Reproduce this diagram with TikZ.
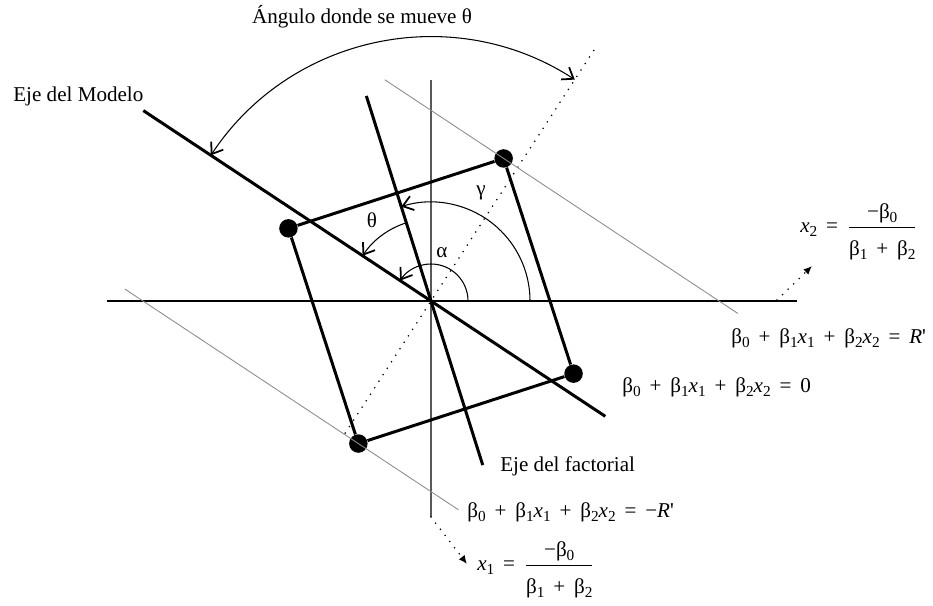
\documentclass[tikz,border=0pt]{standalone}
\usepackage{fontspec}
\setmainfont{Liberation Serif}
\usepackage{amsmath}
\usetikzlibrary{arrows.meta}
\newcommand{\sub}[1]{\raisebox{-0.4ex}{\fontsize{8.7}{9}\selectfont #1}}
\newcommand{\bt}[1]{β\sub{#1}}
\newcommand{\xv}[1]{\textit{x}\sub{#1}}
\newcommand{\op}[1]{\hspace{0.42em}#1\hspace{0.42em}}

\begin{document}
\begin{tikzpicture}[
			eje/.style={draw=black, line width=0.9pt},
			ejegris/.style={draw=black!65, line width=0.8pt},
			recta/.style={draw=black, line width=1.7pt},
			paralela/.style={draw=black!45, line width=0.5pt},
			arco/.style={draw=black, line width=0.6pt, -{Straight Barb[length=2mm, width=2.9mm, line width=1pt]}},
			punto/.style={circle, fill=black, inner sep=0pt, minimum size=0.37cm},
			etiqueta/.style={font=\fontsize{12}{14}\selectfont, inner sep=0pt},
			punteado/.style={line width=1pt, line cap=round, dash pattern=on 0pt off 4.4pt},
			guia/.style={punteado, -{Latex[length=1.7mm, width=1.5mm]}}
			]
			\useasboundingbox (-8.62,-6.08) rectangle (10.04,6.02);
			\coordinate (O) at (0,0);
			
			% Ejes x1 y x2
			\draw[eje] (-6.48,0) -- (7.32,0);
			\draw[ejegris] (0,4.42) -- (0,-4.32);
			
			% Diagonal punteada
			\draw[punteado] (237:3.15) -- (57:6.1);
			
			% Vertices del factorial
			\node[punto] (A) at (153:3.2) {};
			\node[punto] (B) at (63:3.2) {};
			\node[punto] (C) at (333:3.2) {};
			\node[punto] (D) at (243:3.2) {};
			
			% Rectas paralelas al eje del modelo
			\draw[paralela] ([shift={(146.5:2.85)}]B.center) -- ([shift={(-33.5:5.62)}]B.center);
			\draw[paralela] ([shift={(146.5:5.6)}]D.center) -- ([shift={(-33.5:2.4)}]D.center);
			
			% Cuadrado
			\draw[recta] (A) -- (B) -- (C) -- (D) -- (A);
			
			% Eje del modelo y eje del factorial
			\draw[recta] (146.5:6.9) -- (-33.5:4.18);
			\draw[recta] (107.5:4.3) -- (-72.5:3.44);
			
			% Angulos
			\draw[arco] (0:0.74) arc[start angle=0, end angle=146.5, radius=0.74];
			\draw[arco] (0:1.98) arc[start angle=0, end angle=107.5, radius=1.98];
			\draw[arco] (107.5:1.64) arc[start angle=107.5, end angle=146.5, radius=1.64];
			\draw[arco, {Straight Barb[length=2mm, width=2.9mm, line width=1pt]}-{Straight Barb[length=2mm, width=2.9mm, line width=1pt]}] (57:5.28) arc[start angle=57, end angle=146.5, radius=5.28];
			
			\node[etiqueta] (theta) at (-1.18,1.62) {θ};
			\node[etiqueta] (gamma) at (1.00,2.16) {γ};
			\node[etiqueta] (alfa) at (0.22,0.96) {α};
			
			% Textos
			\node[etiqueta] (titulo) at (-1.38,5.68) {Ángulo donde se mueve θ};
			\node[etiqueta, anchor=west] (ejemodelo) at (-8.36,4.10) {Eje del Modelo};
			\node[etiqueta, anchor=west] (ejefactorial) at (1.38,-3.30) {Eje del factorial};
			
			% Planos
			\node[etiqueta, anchor=west] (planoR) at (6.00,-0.74) {\bt0\op+\bt1\xv1\op+\bt2\xv2\op=\textit{R}\textquotesingle};
			\node[etiqueta, anchor=west] (plano0) at (3.82,-1.72) {\bt0\op+\bt1\xv1\op+\bt2\xv2\op=0};
			\node[etiqueta, anchor=west] (planoRneg) at (0.72,-4.22) {\bt0\op+\bt1\xv1\op+\bt2\xv2\op=−\textit{R}\textquotesingle};
			
			% Cortes con los ejes
			\node[etiqueta, anchor=west] (corteX2) at (7.38,1.38) {\xv2\op=$\dfrac{\text{−\bt0}}{\rule{0pt}{2.6ex}\text{\bt1\op+\bt2}}$};
			\node[etiqueta, anchor=west] (corteX1) at (0.92,-5.38) {\xv1\op=$\dfrac{\text{−\bt0}}{\rule{0pt}{2.6ex}\text{\bt1\op+\bt2}}$};
			\coordinate (x2ini) at (6.92,0.02);
			\coordinate (x2fin) at (7.62,0.70);
			\coordinate (x1ini) at (0,-4.32);
			\coordinate (x1fin) at (0.72,-5.26);
			\draw[guia] (x2ini) -- (x2fin);
			\draw[guia] (x1ini) -- (x1fin);
			
		\end{tikzpicture}
\end{document}
